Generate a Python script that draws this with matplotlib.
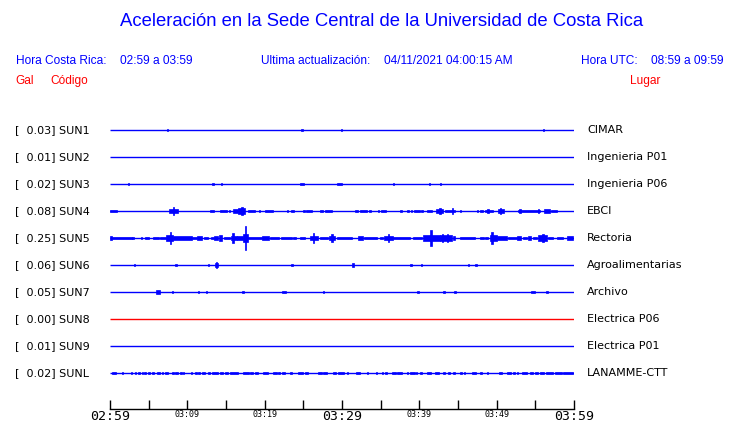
import matplotlib
matplotlib.use("Agg")
import matplotlib.pyplot as plt
from matplotlib.transforms import blended_transform_factory

# ---------------- data ----------------
codes = ["SUN1", "SUN2", "SUN3", "SUN4", "SUN5", "SUN6", "SUN7", "SUN8", "SUN9", "SUNL"]
places = ["CIMAR", "Ingenieria P01", "Ingenieria P06", "EBCI", "Rectoria",
          "Agroalimentarias", "Archivo", "Electrica P06", "Electrica P01", "LANAMME-CTT"]
peak_gal = [0.03, 0.01, 0.02, 0.08, 0.25, 0.06, 0.05, 0.00, 0.01, 0.02]
trace_colors = ["#0000ff"] * 7 + ["#ff0000"] + ["#0000ff"] * 2

# bursts: (start minute, end minute, half amplitude in Gal); minutes after 02:59
sun1_bursts = [(7.35, 7.5, 0.03), (24.7, 25.0, 0.025), (29.85, 30.0, 0.025), (55.95, 56.1, 0.03)]
sun2_bursts = []
sun3_bursts = [(2.35, 2.5, 0.015), (13.2, 13.5, 0.015), (14.35, 14.5, 0.015), (24.6, 25.1, 0.015),
               (29.3, 30.0, 0.015), (36.55, 36.7, 0.015), (41.2, 41.4, 0.02), (42.65, 42.8, 0.015)]
sun4_bursts = [(0.0, 0.9, 0.025), (7.6, 8.8, 0.04), (8.1, 8.3, 0.08), (12.9, 13.4, 0.02),
               (14.2, 15.1, 0.02), (15.4, 15.5, 0.02), (15.9, 16.5, 0.04), (16.6, 17.5, 0.06),
               (17.0, 17.2, 0.08), (17.9, 18.8, 0.025), (19.3, 19.4, 0.02), (20.1, 21.1, 0.025),
               (22.9, 23.0, 0.015), (23.4, 23.8, 0.015), (25.0, 25.2, 0.02), (25.3, 26.1, 0.03),
               (27.2, 27.6, 0.02), (27.8, 28.7, 0.02), (31.7, 32.1, 0.02), (32.3, 33.2, 0.025),
               (33.5, 33.8, 0.02), (34.7, 34.8, 0.02), (35.0, 35.7, 0.02), (37.5, 37.7, 0.02),
               (38.4, 38.7, 0.02), (38.9, 39.1, 0.02), (39.3, 40.1, 0.025), (40.2, 40.5, 0.02),
               (41.0, 41.6, 0.02), (42.2, 43.1, 0.035), (42.6, 42.8, 0.06), (43.3, 44.6, 0.03),
               (44.2, 44.4, 0.055), (45.2, 45.3, 0.015), (47.4, 47.6, 0.02), (47.8, 48.2, 0.02),
               (48.5, 49.5, 0.03), (48.8, 49.0, 0.045), (50.2, 50.9, 0.04), (50.4, 50.6, 0.06),
               (52.8, 55.6, 0.03), (52.9, 53.1, 0.045), (55.3, 55.5, 0.045), (56.1, 56.9, 0.045),
               (57.0, 57.8, 0.02)]
sun5_bursts = [(0.0, 0.2, 0.04), (0.2, 2.8, 0.025), (2.9, 3.1, 0.02), (4.0, 4.1, 0.015),
               (4.5, 5.0, 0.025), (5.5, 6.3, 0.025), (6.5, 7.3, 0.03), (7.3, 8.2, 0.06),
               (7.7, 7.9, 0.12), (8.2, 10.6, 0.04), (10.6, 11.2, 0.025), (11.3, 11.9, 0.035),
               (12.1, 12.7, 0.025), (13.1, 13.4, 0.02), (13.5, 14.0, 0.04), (14.1, 14.5, 0.06),
               (14.7, 15.5, 0.03), (15.6, 16.4, 0.05), (15.8, 16.0, 0.10), (16.4, 17.2, 0.035),
               (17.2, 17.9, 0.08), (17.4, 17.6, 0.25), (17.9, 19.6, 0.025), (19.6, 20.5, 0.035),
               (20.7, 21.8, 0.025), (22.1, 23.5, 0.025), (23.7, 24.1, 0.02), (24.6, 25.2, 0.025),
               (25.9, 26.9, 0.05), (26.2, 26.4, 0.10), (27.2, 28.2, 0.03), (28.3, 29.1, 0.05),
               (28.6, 28.8, 0.09), (29.3, 31.3, 0.03), (32.1, 32.7, 0.05), (32.8, 34.5, 0.03),
               (34.9, 35.3, 0.02), (35.4, 36.6, 0.05), (35.9, 36.1, 0.075), (36.6, 38.8, 0.025),
               (39.2, 40.3, 0.025), (40.5, 41.4, 0.06), (41.4, 42.7, 0.07), (41.4, 41.6, 0.16),
               (42.7, 44.2, 0.06), (42.9, 43.0, 0.09), (43.6, 43.7, 0.09), (44.4, 44.6, 0.04),
               (45.3, 47.2, 0.025), (47.8, 48.3, 0.025), (48.5, 48.9, 0.025), (49.1, 50.0, 0.07),
               (49.3, 49.5, 0.13), (50.0, 51.3, 0.035), (51.5, 52.6, 0.025), (52.6, 53.2, 0.035),
               (53.4, 53.9, 0.03), (54.0, 54.5, 0.05), (54.7, 55.2, 0.025), (55.4, 56.5, 0.06),
               (55.9, 56.1, 0.09), (56.7, 57.3, 0.025), (57.8, 58.6, 0.025), (59.1, 59.9, 0.035)]
sun6_bursts = [(3.05, 3.2, 0.025), (8.45, 8.6, 0.02), (12.65, 12.8, 0.025), (13.6, 14.0, 0.04),
               (13.7, 13.9, 0.06), (23.45, 23.6, 0.02), (31.3, 31.6, 0.05), (38.85, 39.0, 0.02),
               (40.2, 40.4, 0.025), (46.25, 46.4, 0.02), (47.25, 47.4, 0.015)]
sun7_bursts = [(6.0, 6.5, 0.05), (8.0, 8.2, 0.025), (11.35, 11.5, 0.02), (12.45, 12.6, 0.02),
               (17.1, 17.3, 0.025), (22.3, 22.8, 0.025), (27.55, 27.7, 0.015), (39.75, 39.9, 0.02),
               (43.1, 43.3, 0.025), (44.5, 44.8, 0.03), (54.4, 55.0, 0.025), (56.4, 56.6, 0.03)]
sun8_bursts = []
sun9_bursts = []
sunl_bursts = [(0.21, 0.73, 0.02), (1.51, 1.64, 0.015), (2.72, 2.89, 0.015), (3.23, 3.32, 0.015),
               (3.66, 3.84, 0.015), (4.09, 4.18, 0.015), (4.44, 4.61, 0.015), (4.96, 5.13, 0.015),
               (5.47, 5.65, 0.015), (6.03, 6.47, 0.015), (6.68, 6.90, 0.015), (7.11, 7.46, 0.015),
               (8.06, 8.23, 0.015), (8.40, 8.75, 0.015), (9.05, 9.27, 0.015), (9.48, 9.61, 0.015),
               (10.47, 10.65, 0.015), (10.99, 11.21, 0.015), (11.42, 11.60, 0.015), (11.85, 12.28, 0.015),
               (12.72, 12.93, 0.015), (13.15, 14.01, 0.02), (14.22, 14.65, 0.015), (14.87, 15.30, 0.015),
               (15.52, 16.59, 0.02), (17.24, 17.97, 0.015), (18.10, 18.53, 0.02), (18.75, 19.18, 0.015),
               (19.83, 20.47, 0.015), (21.03, 21.55, 0.015), (21.77, 21.98, 0.015), (22.20, 22.63, 0.015),
               (23.28, 23.49, 0.015), (24.27, 25.00, 0.015), (25.21, 25.65, 0.015), (26.94, 27.37, 0.015),
               (27.58, 28.02, 0.015), (28.88, 29.18, 0.015), (29.52, 30.30, 0.02), (30.60, 30.69, 0.015),
               (31.81, 32.33, 0.015), (33.19, 33.27, 0.015), (34.40, 34.57, 0.015), (35.13, 35.34, 0.015),
               (35.56, 35.77, 0.015), (36.42, 36.98, 0.02), (37.15, 37.71, 0.015), (38.36, 38.58, 0.015),
               (38.79, 39.44, 0.015), (39.57, 39.74, 0.015), (40.08, 40.30, 0.015), (41.03, 41.46, 0.02),
               (42.02, 42.58, 0.015), (43.10, 43.32, 0.015), (43.75, 43.96, 0.015), (44.40, 44.61, 0.015),
               (45.26, 45.47, 0.015), (45.77, 45.90, 0.015), (46.77, 47.33, 0.015), (47.84, 48.06, 0.015),
               (48.71, 48.92, 0.015), (50.34, 50.65, 0.015), (51.29, 51.81, 0.015), (52.15, 52.37, 0.015),
               (52.58, 52.80, 0.015), (53.23, 53.88, 0.015), (54.31, 54.65, 0.015), (54.96, 55.39, 0.015),
               (55.60, 56.12, 0.015), (56.38, 57.33, 0.015), (57.54, 58.40, 0.015), (58.62, 59.91, 0.015)]
all_bursts = [sun1_bursts, sun2_bursts, sun3_bursts, sun4_bursts, sun5_bursts,
              sun6_bursts, sun7_bursts, sun8_bursts, sun9_bursts, sunl_bursts]

tick_minutes = [0, 5, 10, 15, 20, 25, 30, 35, 40, 45, 50, 55, 60]
tick_labels = ["02:59", "", "03:09", "", "03:19", "", "03:29", "", "03:39", "", "03:49", "", "03:59"]
major_labels = ["02:59", "03:29", "03:59"]

title = "Aceleración en la Sede Central de la Universidad de Costa Rica"
local_hours = "02:59 a 03:59"
utc_hours = "08:59 a 09:59"
updated = "04/11/2021 04:00:15 AM"

# ---------------- figure ----------------
W, H = 740, 423
fig = plt.figure(figsize=(W / 100, H / 100), dpi=100)
BLUE = "#0000ff"
RED = "#ff0000"


def fx(px):
    return px / W


def fy(py):
    return 1 - py / H


hdr = dict(family="Liberation Sans", fontsize=8.6, va="center")
fig.text(fx(120), fy(21), title, family="Liberation Sans", fontsize=13.3,
         color=BLUE, ha="left", va="center")
fig.text(fx(15.7), fy(61), "Hora Costa Rica:", color=BLUE, ha="left", **hdr)
fig.text(fx(120), fy(61), local_hours, color=BLUE, ha="left", **hdr)
fig.text(fx(260.7), fy(61), "Ultima actualización:", color=BLUE, ha="left", **hdr)
fig.text(fx(512.7), fy(61), updated, color=BLUE, ha="right", **hdr)
fig.text(fx(580.7), fy(61), "Hora UTC:", color=BLUE, ha="left", **hdr)
fig.text(fx(724), fy(61), utc_hours, color=BLUE, ha="right", **hdr)
fig.text(fx(15.7), fy(81), "Gal", color=RED, ha="left", **hdr)
fig.text(fx(50), fy(81), "Código", color=RED, ha="left", **hdr)
fig.text(fx(630), fy(81), "Lugar", color=RED, ha="left", **hdr)

# trace axes: x 110..574 px, y 100..409 px ; rows every 27 px starting at 130
ax_top, ax_bot = 100, 409
ax = fig.add_axes([fx(110), fy(ax_bot), (574 - 110) / W, (ax_bot - ax_top) / H])
row_px = 27.0
first_row_px = 130.0
ax.set_xlim(0, 60)
ax.set_ylim((ax_bot - first_row_px) / row_px, (ax_top - first_row_px) / row_px)
gal_to_rows = 48.0 / row_px  # common scale: 48 px per Gal

for i, (bursts, col) in enumerate(zip(all_bursts, trace_colors)):
    ax.hlines(i, 0, 60, color=col, lw=1.0)
    if bursts:
        xs = [b[0] for b in bursts]
        ws = [max(b[1] - b[0], 0.13) for b in bursts]
        amps = [max(b[2] * gal_to_rows, 0.035) for b in bursts]
        ax.bar(xs, [2 * a for a in amps], width=ws, bottom=[i - a for a in amps],
               align="edge", color=col, edgecolor=col, linewidth=0.5)

lab_tr = blended_transform_factory(fig.transFigure, ax.transData)
for i, (code, place, g) in enumerate(zip(codes, places, peak_gal)):
    ax.text(fx(15), i, f"[  {g:.2f}] {code}", transform=lab_tr, fontsize=8,
            family="DejaVu Sans", ha="left", va="center", color="black")
    ax.text(fx(587), i, place, transform=lab_tr, fontsize=8,
            family="DejaVu Sans", ha="left", va="center", color="black")

for s in ["top", "left", "right"]:
    ax.spines[s].set_visible(False)
ax.spines["bottom"].set_linewidth(1.0)
ax.set_yticks([])
ax.set_xticks(tick_minutes)
ax.set_xticklabels(tick_labels)
ax.tick_params(axis="x", direction="in", length=6.5, width=1.0, pad=0.5, colors="black")
for lbl in ax.get_xticklabels():
    lbl.set_family("DejaVu Sans Mono")
    lbl.set_fontsize(9.5 if lbl.get_text() in major_labels else 6)
ax.patch.set_alpha(0)

fig.savefig("out.png", dpi=100, facecolor="white")
